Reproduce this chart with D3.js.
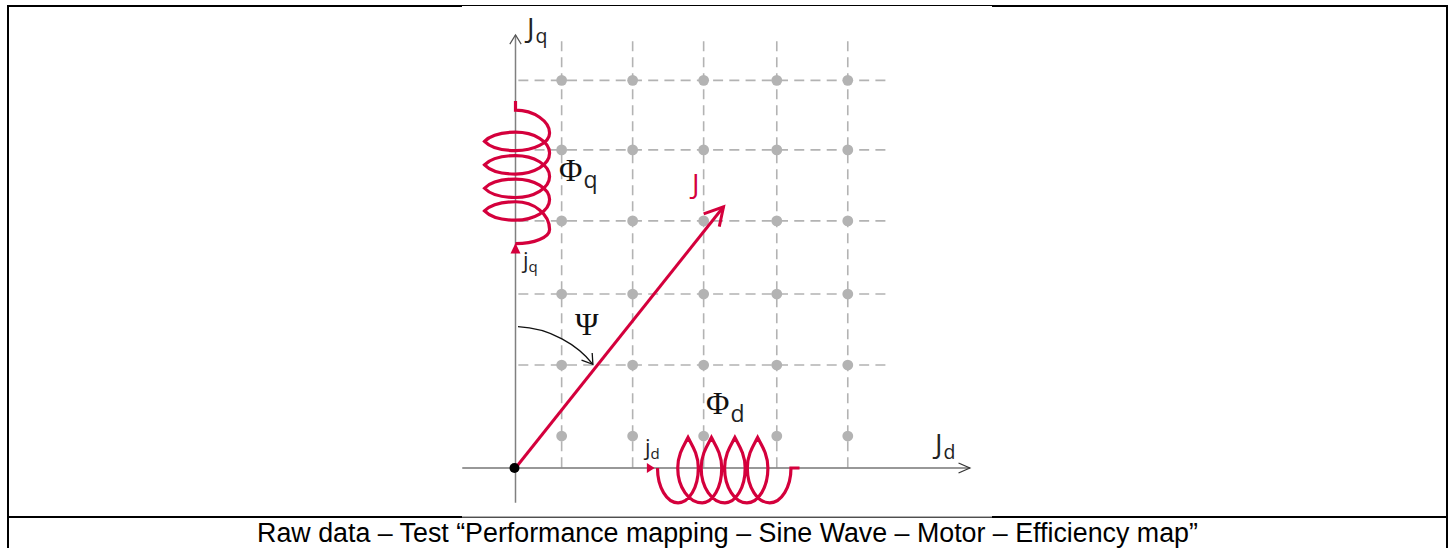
<!DOCTYPE html>
<html><head><meta charset="utf-8">
<script src="https://cdn.jsdelivr.net/npm/d3@7/dist/d3.min.js"></script>
<style>html,body{margin:0;padding:0;background:#fff}svg{display:block}</style>
</head><body><svg id="c" width="1452" height="548"></svg>
<script>
// Values in diagram units (1 unit = one grid pitch)
const jdTicks = [0.65, 1.65, 2.65, 3.68, 4.68];
const jqTicks = [0.45, 1.45, 2.45, 3.48, 4.48, 5.46];
const jVector = [[0, 0], [2.93, 3.68]];
const coilQTips = [4.60, 4.27, 3.94, 3.62];
const coilDTips = [2.43, 2.76, 3.09, 3.41];
const coilDBottoms = [2.29, 2.63, 2.95, 3.26, 3.58];
const psiArc = [[0.035,1.99],[0.49,1.97],[0.88,1.73],[1.09,1.46]];
const labels = [
 {t:"J",s:"q",x:527,y:38,f:"sans",c:"#222",dy:5},
 {t:"J",s:"d",x:935,y:454,f:"sans",c:"#222",dy:5},
 {t:"J",s:"",x:692,y:194,f:"sans",c:"#d4003c",dy:0},
 {t:"Φ",s:"q",x:559,y:180.5,f:"serif",c:"#111",dy:7.5},
 {t:"Φ",s:"d",x:706,y:414,f:"serif",c:"#111",dy:7.5},
 {t:"Ψ",s:"",x:575,y:335,f:"serif",c:"#111",dy:0}
];
const smallLabels = [{t:"j",s:"q",x:523,y:268},{t:"j",s:"d",x:645,y:455}];
const caption = "Raw data – Test “Performance mapping – Sine Wave – Motor – Efficiency map”";

const red = "#d4003c", grey = "#b3b3b3";
const svg = d3.select("#c");
const x = d3.scaleLinear().domain([0,1]).range([515.5,586.5]);
const y = d3.scaleLinear().domain([0,1]).range([468,397]);

// table frame
const frame = [[8,548,8,5],[7,6,462,6],[992,6,1448,6],[1447,5,1447,548],[7,517,462,517],[992,517,1447,517]];
svg.selectAll(".frame").data(frame).join("line").attr("x1",d=>d[0]).attr("y1",d=>d[1]).attr("x2",d=>d[2]).attr("y2",d=>d[3]).attr("stroke","#000").attr("stroke-width",2);
svg.selectAll(".frame2").data([[462,5.5,992,5.5],[462,517.2,992,517.2]]).join("line").attr("x1",d=>d[0]).attr("y1",d=>d[1]).attr("x2",d=>d[2]).attr("y2",d=>d[3]).attr("stroke","#000").attr("stroke-width",1);

// grid
const g = svg.append("g");
g.selectAll(".v").data(jdTicks).join("line").attr("x1",d=>x(d)).attr("x2",d=>x(d)).attr("y1",y(6.01)).attr("y2",y(0))
 .attr("stroke",grey).attr("stroke-width",1.6).attr("stroke-dasharray","10 6");
g.selectAll(".h").data(jqTicks.slice(1)).join("line").attr("y1",d=>y(d)).attr("y2",d=>y(d)).attr("x1",x(0.04)).attr("x2",x(5.21))
 .attr("stroke",grey).attr("stroke-width",1.6).attr("stroke-dasharray","10 6.23");
const pts = jqTicks.flatMap(q=>jdTicks.map(d=>[d,q]));
g.selectAll("circle").data(pts).join("circle").attr("cx",d=>x(d[0])).attr("cy",d=>y(d[1])).attr("r",5.4).attr("fill",grey);

// axes
const ax = svg.append("g").attr("fill","none");
ax.append("line").attr("x1",x(0)).attr("x2",x(0)).attr("y1",y(-0.49)).attr("y2",y(6.1)).attr("stroke","#808080").attr("stroke-width",1.5);
ax.append("path").attr("d",`M${x(-0.08)},${y(5.97)}L${x(0)},${y(6.1)}L${x(0.08)},${y(5.97)}`).attr("stroke","#555").attr("stroke-width",1.2);
ax.append("line").attr("x1",x(-0.75)).attr("x2",x(6.4)).attr("y1",y(0)).attr("y2",y(0)).attr("stroke","#333").attr("stroke-width",1.2);
ax.append("path").attr("d",`M${x(6.24)},${y(0.07)}L${x(6.4)},${y(0)}L${x(6.24)},${y(-0.07)}`).attr("stroke","#333").attr("stroke-width",1.2);

// Bezier helper working in diagram units, projected through the scales
const pathIn = () => {
  const p = d3.path();
  return {
    M:(a,b)=>p.moveTo(x(a),y(b)),
    L:(a,b)=>p.lineTo(x(a),y(b)),
    C:(a,b,c,d,e,f)=>p.bezierCurveTo(x(a),y(b),x(c),y(d),x(e),y(f)),
    str:()=>p.toString()
  };
};

// Psi arc
const arc = pathIn();
arc.M(...psiArc[0]); arc.C(...psiArc[1],...psiArc[2],...psiArc[3]);
ax.append("path").attr("d",arc.str()).attr("stroke","#111").attr("stroke-width",1.3);
ax.append("path").attr("d",`M${x(0.93)},${y(1.52)}L${x(1.09)},${y(1.46)}L${x(1.08)},${y(1.62)}`).attr("stroke","#111").attr("stroke-width",1.3);

const coils = svg.append("g").attr("fill","none").attr("stroke",red).attr("stroke-width",3.2).attr("stroke-linejoin","miter");

// Jq coil
const K = 0.55, TX = -0.437, BX = 0.48, HT = 0.13;
const q = pathIn();
q.M(0,5.17); q.L(0,5.04);
q.C(BX*K,5.04, BX,4.72+0.32*K*0.9, BX,4.72);
q.C(BX,4.72-0.25*K, BX*K,coilQTips[0]-HT, 0,coilQTips[0]-HT);
q.C(-0.22,coilQTips[0]-HT, -0.36,coilQTips[0]-0.08, TX,coilQTips[0]);
coilQTips.forEach((t,i)=>{
  const top = t+HT, next = coilQTips[i+1];
  q.C(-0.36,t+0.08, -0.22,top, 0,top);
  if(next!==undefined){
    const mid = (t+next)/2, bot = next-HT;
    q.C(BX*K,top, BX,mid+(top-mid)*K, BX,mid);
    q.C(BX,mid-(mid-bot)*K, BX*K,bot, 0,bot);
    q.C(-0.22,bot, -0.36,next-0.08, TX,next);
  } else {
    q.C(BX*K,top, BX,3.36+(top-3.36)*K, BX,3.36);
    q.C(BX,3.36-0.2*K, BX*K,3.16, 0,3.16);
  }
});
coils.append("path").attr("d",q.str());

// Jd coil
const D0 = 2.0, DEND = 3.88, BOT = -0.49, TOPD = 0.43, HW = 0.145;
const d = pathIn();
d.M(D0,0);
d.C(D0,BOT*K, coilDBottoms[0]-(coilDBottoms[0]-D0)*K,BOT, coilDBottoms[0],BOT);
coilDTips.forEach((t,i)=>{
  const b = coilDBottoms[i], nb = coilDBottoms[i+1];
  d.C(b+(t+HW-b)*K,BOT, t+HW,BOT*K, t+HW,0);
  d.C(t+HW,0.2, t+0.05,0.33, t,TOPD);
  d.C(t-0.05,0.33, t-HW,0.2, t-HW,0);
  d.C(t-HW,BOT*K, nb-(nb-t+HW)*K,BOT, nb,BOT);
});
const lastB = coilDBottoms[coilDBottoms.length-1];
d.C(lastB+(DEND-lastB)*K,BOT, DEND,BOT*K, DEND,0);
d.L(4.0,0);
coils.append("path").attr("d",d.str());

// little inflow arrows
svg.append("path").attr("fill",red).attr("d",`M${x(0)},${y(3.17)}L${x(-0.07)},${y(3.02)}L${x(0.07)},${y(3.02)}Z`);
svg.append("path").attr("fill",red).attr("d",`M${x(1.96)},${y(0)}L${x(1.85)},${y(0.07)}L${x(1.85)},${y(-0.07)}Z`);

// J vector
const jl = d3.line().x(d=>x(d[0])).y(d=>y(d[1]));
svg.append("path").attr("d",jl(jVector)).attr("fill","none").attr("stroke",red).attr("stroke-width",3);
svg.append("path").attr("d",jl([[2.65,3.58],[2.93,3.68],[2.87,3.4]])).attr("fill","none").attr("stroke",red).attr("stroke-width",3);

// origin
svg.append("circle").attr("cx",x(0)-1).attr("cy",y(0)).attr("r",5).attr("fill","#000");

// labels
const fam = {sans:"'Open Sans',sans-serif",serif:"'Liberation Serif',serif"};
const size = {sans:28,serif:32};
labels.forEach(l=>{
  const t = svg.append("text").attr("x",l.x).attr("y",l.y).attr("fill",l.c);
  t.append("tspan").text(l.t).attr("font-family",fam[l.f]).attr("font-size",size[l.f]);
  if(l.s) t.append("tspan").text(l.s).attr("font-family",fam.sans).attr("font-size",l.f==="serif"?23:19.5).attr("fill","#222").attr("dx",1).attr("dy",l.dy);
});
smallLabels.forEach(l=>{
  const t = svg.append("text").attr("x",l.x).attr("y",l.y).attr("fill","#222").attr("font-family",fam.sans);
  t.append("tspan").text(l.t).attr("font-size",22);
  t.append("tspan").text(l.s).attr("font-size",15).attr("dy",4);
});
svg.append("text").attr("x",727.5).attr("y",542).attr("text-anchor","middle").attr("font-family","'Liberation Sans',Arial,sans-serif").attr("font-size",26.8).attr("fill","#000").text(caption);
</script></body></html>
